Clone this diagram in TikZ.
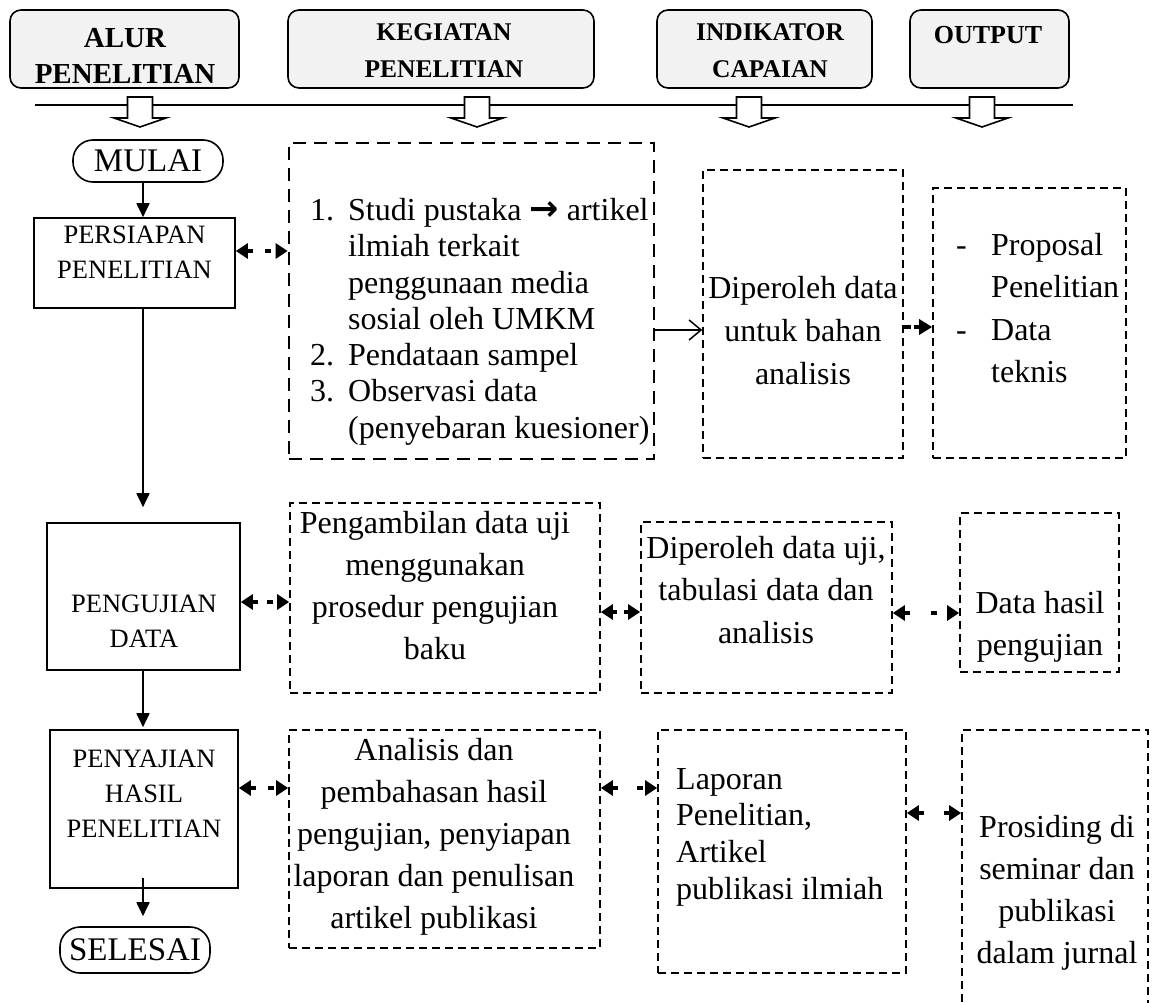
\documentclass[tikz,border=0pt]{standalone}
\usepackage{fontspec}
\setmainfont{Liberation Serif}
\newfontfamily\symfont{DejaVu Sans}
\usepackage{tikz}
\usetikzlibrary{arrows.meta}
\tikzstyle{headBox} = [draw, line width=1.6pt, rounded corners=11pt,
   fill=gray!10, inner sep=0pt, minimum height=78pt]
\tikzstyle{headText} = [anchor=north, align=center, inner sep=0pt,
   font=\fontsize{25.5}{37}\selectfont\bfseries]
\tikzstyle{flowBox} = [draw, line width=1.6pt, inner sep=0pt]
\tikzstyle{endBox} = [draw, line width=1.6pt, rounded corners=20pt, inner sep=0pt,
   minimum width=150pt, font=\fontsize{33}{40}\selectfont]
\tikzstyle{flowText} = [anchor=north, align=center, inner sep=0pt,
   font=\fontsize{26.5}{35}\selectfont]
\tikzstyle{dashBox} = [draw, line width=1.6pt, dash pattern=on 8pt off 5pt, inner sep=0pt]
\tikzstyle{boldDashBox} = [dashBox, line width=2.6pt, dash pattern=on 13pt off 8pt]
\tikzstyle{boxText} = [anchor=north, align=center, inner sep=0pt,
   font=\fontsize{32}{42}\selectfont]
\tikzstyle{flowArrow} = [line width=1.8pt, -{Triangle[length=14pt,width=13pt]}]
\tikzstyle{linkArrow} = [line width=3.2pt,
   {Triangle[length=12pt,width=15pt]}-{Triangle[length=12pt,width=15pt]}]
\tikzstyle{stepArrow} = [line width=3.2pt, dash pattern=on 7pt off 3pt,
   -{Triangle[length=13pt,width=15pt]}]
\tikzstyle{dataArrow} = [line width=1.5pt, -{Straight Barb[length=12pt,width=20pt]}]
\tikzstyle{blockArrow} = [draw, fill=white, line width=1.6pt]

\begin{document}
\begin{tikzpicture}[x=1pt, y=-1pt]
	\useasboundingbox (0,0) rectangle (1152,1003);
	\clip (0,0) rectangle (1152,1003);

	% column heads
	\node[headBox, minimum width=229pt] (alur) at (124.5,49) {};
	\node[headText, font=\fontsize{29}{36}\selectfont\bfseries] (alurText) at (125,28) {ALUR\\PENELITIAN};
	\node[headBox, minimum width=306pt] (kegiatan) at (441,49) {};
	\node[headText] (kegiatanText) at (444,23) {KEGIATAN\\PENELITIAN};
	\node[headBox, minimum width=215pt] (indikator) at (764.5,49) {};
	\node[headText] (indikatorText) at (770,23) {INDIKATOR\\CAPAIAN};
	\node[headBox, minimum width=159pt] (output) at (989.5,49) {};
	\node[headText, font=\fontsize{26}{37}\selectfont\bfseries] (outputText) at (988,26) {OUTPUT};

	% rule and open arrows under the heads
	\coordinate (ruleL) at (35,105);
	\coordinate (ruleR) at (1073,105);
	\draw[line width=2pt] (ruleL) -- (ruleR);
	\draw[blockArrow] (127.5,97) -- ++(25,0) -- ++(0,21) -- ++(13.5,0) -- ++(-26,9) -- ++(-26,-9) -- ++(13.5,0) -- cycle;
	\draw[blockArrow] (464.5,97) -- ++(25,0) -- ++(0,21) -- ++(13.5,0) -- ++(-26,9) -- ++(-26,-9) -- ++(13.5,0) -- cycle;
	\draw[blockArrow] (736.5,97) -- ++(25,0) -- ++(0,21) -- ++(13.5,0) -- ++(-26,9) -- ++(-26,-9) -- ++(13.5,0) -- cycle;
	\draw[blockArrow] (969.5,97) -- ++(25,0) -- ++(0,21) -- ++(13.5,0) -- ++(-26,9) -- ++(-26,-9) -- ++(13.5,0) -- cycle;

	% research flow
	\node[endBox, minimum height=42pt] (mulai) at (148,161) {MULAI};
	\node[flowBox, minimum width=201pt, minimum height=90pt] (persiapan) at (134.5,263) {};
	\node[flowText] (persiapanText) at (134.5,225.5) {PERSIAPAN\\PENELITIAN};
	\node[flowBox, minimum width=193pt, minimum height=147pt] (pengujian) at (143.5,596.5) {};
	\node[flowText] (pengujianText) at (144,594.5) {PENGUJIAN\\DATA};
	\node[flowBox, minimum width=188pt, minimum height=158pt] (penyajian) at (144,809) {};
	\node[flowText] (penyajianText) at (144,749.5) {PENYAJIAN\\HASIL\\PENELITIAN};
	\node[endBox, minimum height=46pt] (selesai) at (135,950) {SELESAI};

	\coordinate (spine) at (143,0);
	\coordinate (penyajianOut) at ([yshift=11pt]penyajian.south);
	\draw[flowArrow] (spine |- mulai.south) -- (spine |- persiapan.north);
	\draw[flowArrow, shorten >=15pt] (spine |- persiapan.south) -- (spine |- pengujian.north);
	\draw[flowArrow, shorten >=2pt] (spine |- pengujian.south) -- (spine |- penyajian.north);
	\draw[flowArrow, shorten >=10pt] (spine |- penyajianOut) -- (spine |- selesai.north);

	% row 1
	\node[boldDashBox, minimum width=365pt, minimum height=316pt] (studi) at (471.5,301) {};
	\node[boxText, anchor=north west, align=left, font=\fontsize{32}{36.3}\selectfont] (studiText) at (310,198)
		{\makebox[38pt][l]{1.}Studi pustaka {\symfont\bfseries\fontsize{35}{36}\selectfont →} artikel\\
		\hspace*{38pt}ilmiah terkait\\
		\hspace*{38pt}penggunaan media\\
		\hspace*{38pt}sosial oleh UMKM\\
		\makebox[38pt][l]{2.}Pendataan sampel\\
		\makebox[38pt][l]{3.}Observasi data\\
		\hspace*{38pt}(penyebaran kuesioner)};
	\node[dashBox, minimum width=200pt, minimum height=288pt] (bahan) at (803,314) {};
	\node[boxText, font=\fontsize{32}{43}\selectfont] (bahanText) at (803,276) {Diperoleh data\\untuk bahan\\analisis};
	\node[dashBox, minimum width=193pt, minimum height=270pt] (proposal) at (1029.5,323) {};
	\node[boxText, anchor=north west, align=left, font=\fontsize{32}{42.3}\selectfont] (proposalText) at (956,233)
		{\makebox[35pt][l]{-}Proposal\\
		\hspace*{35pt}Penelitian\\
		\makebox[35pt][l]{-}Data\\
		\hspace*{35pt}teknis};

	% row 2
	\node[dashBox, minimum width=310pt, minimum height=190pt] (pengambilan) at (445,598) {};
	\node[boxText] (pengambilanText) at (435,511) {Pengambilan data uji\\menggunakan\\prosedur pengujian\\baku};
	\node[dashBox, minimum width=251pt, minimum height=171pt] (tabulasi) at (766.5,607.5) {};
	\node[boxText, font=\fontsize{32}{42.5}\selectfont] (tabulasiText) at (766,536) {Diperoleh data uji,\\tabulasi data dan\\analisis};
	\node[dashBox, minimum width=159pt, minimum height=159pt] (hasil) at (1039.5,592.5) {};
	\node[boxText] (hasilText) at (1040,591) {Data hasil\\pengujian};

	% row 3
	\node[dashBox, minimum width=311pt, minimum height=218pt] (analisis) at (444.5,839) {};
	\node[boxText] (analisisText) at (434,738) {Analisis dan\\pembahasan hasil\\pengujian, penyiapan\\laporan dan penulisan\\artikel publikasi};
	\node[dashBox, minimum width=248pt, minimum height=243pt] (laporan) at (782,851.5) {};
	\node[boxText, anchor=north west, align=left, font=\fontsize{32}{36.7}\selectfont] (laporanText) at (676,768)
		{Laporan\\Penelitian,\\Artikel\\publikasi ilmiah};
	\node[dashBox, minimum width=186pt, minimum height=300pt] (prosiding) at (1055,880) {};
	\node[boxText] (prosidingText) at (1057,815) {Prosiding di\\seminar dan\\publikasi\\dalam jurnal};

	% links between columns
	\draw[linkArrow, dash pattern=on 6pt off 12pt] ([yshift=12pt]persiapan.east) -- ([yshift=50pt]studi.west);
	\draw[dataArrow] ([yshift=-29pt]studi.east) -- ([yshift=-16pt]bahan.west);
	\draw[stepArrow] ([yshift=-13pt]bahan.east) -- ([yshift=-4pt]proposal.west);
	\draw[linkArrow, dash pattern=on 6pt off 9pt] ([yshift=-5.5pt]pengujian.east) -- ([yshift=-4pt]pengambilan.west);
	\draw[linkArrow, dash pattern=on 5pt off 7pt] ([yshift=-14pt]pengambilan.east) -- ([yshift=-4.5pt]tabulasi.west);
	\draw[linkArrow, dash pattern=on 6pt off 21pt] ([yshift=-5.5pt]tabulasi.east) -- ([yshift=-20.5pt]hasil.west);
	\draw[linkArrow, dash pattern=on 6pt off 12pt] ([yshift=21pt]penyajian.east) -- ([yshift=51pt]analisis.west);
	\draw[linkArrow, dash pattern=on 6pt off 19pt] ([yshift=51pt]analisis.east) -- ([yshift=63.5pt]laporan.west);
	\draw[linkArrow, dash pattern=on 6pt off 20pt] ([yshift=38.5pt]laporan.east) -- ([yshift=67pt]prosiding.west);
\end{tikzpicture}
\end{document}
